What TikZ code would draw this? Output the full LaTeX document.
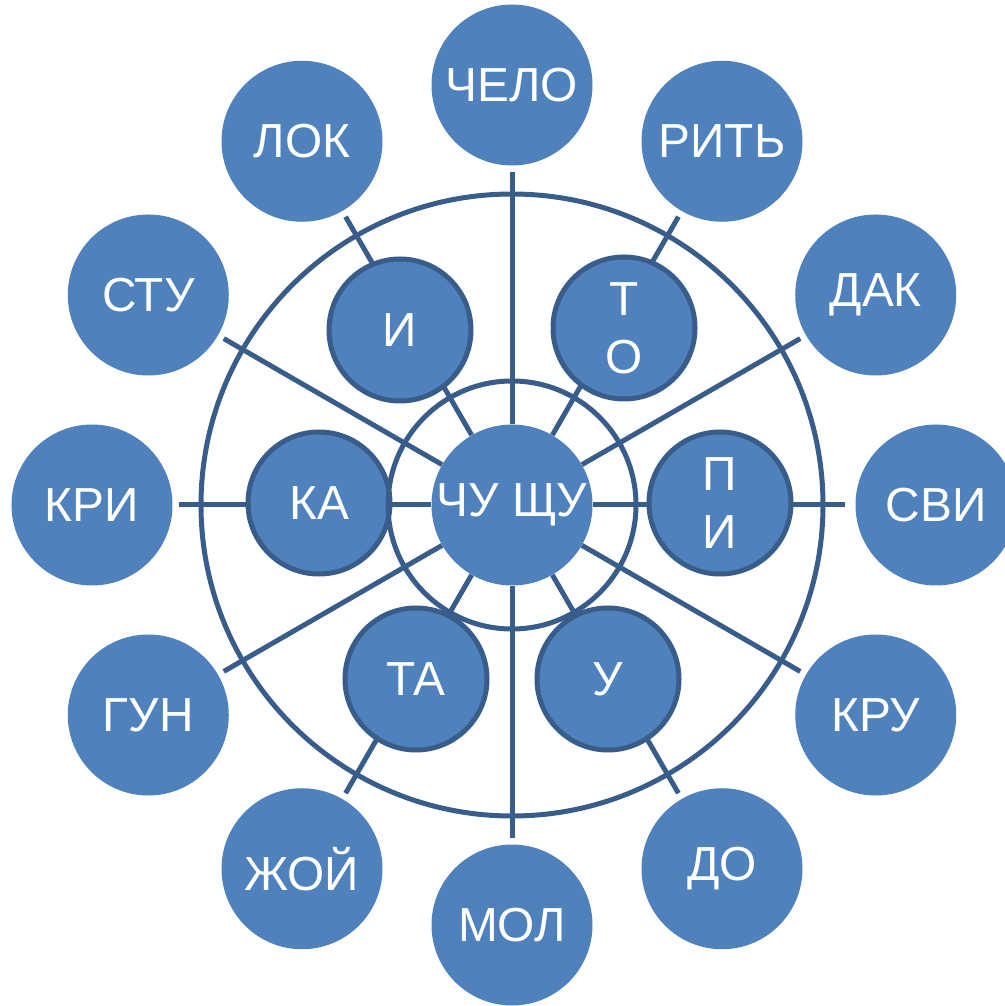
\documentclass[tikz,border=0pt]{standalone}
\usepackage{fontspec}
\setmainfont{Liberation Sans}
\usetikzlibrary{backgrounds}
\definecolor{bluefill}{RGB}{79,129,189}
\definecolor{blueline}{RGB}{56,93,138}
\tikzset{
  syllable/.style={circle, fill=bluefill, text=white, inner sep=0pt,
    minimum size=4.025cm, align=center, font=\fontsize{34}{41}\selectfont},
  middle/.style={syllable, draw=blueline, line width=0.125cm, minimum size=3.55cm},
  spoke/.style={draw=blueline, line width=0.125cm, shorten >=0.16cm},
  ring/.style={draw=blueline, line width=0.125cm}
}
\begin{document}
\begin{tikzpicture}
% Fix the picture size
\useasboundingbox (-12.8,-12.525) rectangle (12.3,12.625);

% Outer syllables
\node[syllable] (chelo) at (90:10.5) {ЧЕЛО};
\node[syllable] (rit) at (60:10.5) {РИТЬ};
\node[syllable] (dak) at (30:10.5) {ДАК};
\node[syllable] (svi) at (0:10.6) {СВИ};
\node[syllable] (kru) at (-30:10.5) {КРУ};
\node[syllable] (do) at (-60:10.5) {ДО};
\node[syllable] (mol) at (-90:10.5) {МОЛ};
\node[syllable] (zhoy) at (-120:10.5) {ЖОЙ};
\node[syllable] (gun) at (-150:10.5) {ГУН};
\node[syllable] (kri) at (180:10.5) {КРИ};
\node[syllable] (stu) at (150:10.5) {СТУ};
\node[syllable] (lok) at (120:10.5) {ЛОК};

% Middle syllables
\node[middle] (i) at (-2.8, 4.375) {И};
\node[middle] (to) at (2.8, 4.425) {Т\\О};
\node[middle] (ka) at (-4.825, 0.05) {КА};
\node[middle] (pi) at (5.2, 0.05) {П\\И};
\node[middle] (ta) at (-2.4, -4.35) {ТА};
\node[middle] (u) at (2.4, -4.35) {У};

% Centre and the two rings round it
\node[syllable] (chu) at (0, 0) {\makebox[0pt]{ЧУ ЩУ}};
\draw[ring] (chu.center) circle[radius=3.1];
\draw[ring] (chu.center) circle[radius=7.775];

% Spokes behind the circles
\begin{pgfonlayer}{background}
\draw[spoke] (chu) -- (chelo);
\draw[spoke] (chu) -- (rit);
\draw[spoke] (chu) -- (dak);
\draw[spoke, shorten >=0.26cm] (chu) -- (svi);
\draw[spoke] (chu) -- (kru);
\draw[spoke] (chu) -- (do);
\draw[spoke] (chu) -- (mol);
\draw[spoke] (chu) -- (zhoy);
\draw[spoke] (chu) -- (gun);
\draw[spoke] (chu) -- (kri);
\draw[spoke] (chu) -- (stu);
\draw[spoke] (chu) -- (lok);
\end{pgfonlayer}
\end{tikzpicture}
\end{document}
